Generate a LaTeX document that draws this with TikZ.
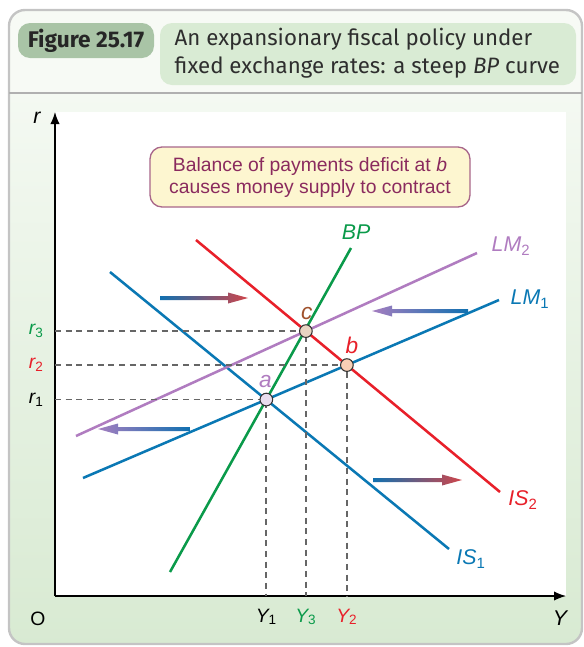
\documentclass[tikz,border=0pt]{standalone}
\usepackage{fontspec}
\setmainfont{Liberation Sans}
\newfontfamily\headfont{Fira Sans}
\usetikzlibrary{arrows.meta,intersections}
\definecolor{isblue}{HTML}{0A78B4}
\definecolor{isred}{HTML}{E8202A}
\definecolor{bpgreen}{HTML}{0A9A4A}
\definecolor{lmpurple}{HTML}{B07CC0}
\definecolor{dashgray}{HTML}{666666}
\definecolor{framegray}{HTML}{C4C4C4}
\definecolor{headbg}{HTML}{F7FAF5}
\definecolor{bgtop}{HTML}{F4F9F2}
\definecolor{bgbottom}{HTML}{D8EAD2}
\definecolor{figbox}{HTML}{A9C4A6}
\definecolor{titlebox}{HTML}{D9EBD4}
\definecolor{titletext}{HTML}{2E2E2E}
\definecolor{callfill}{HTML}{FDF6D0}
\definecolor{callborder}{HTML}{A8668A}
\definecolor{calltext}{HTML}{8A2A5E}
\definecolor{cbrown}{HTML}{A0522D}
\definecolor{afill}{HTML}{E9DDEE}
\definecolor{bfill}{HTML}{F8CFB5}
\definecolor{cfill}{HTML}{E8D4C2}
\definecolor{arrblue}{HTML}{1070B0}
\definecolor{arrred}{HTML}{D0454A}
\definecolor{arrpurple}{HTML}{A57EC0}
\newcommand{\sbs}[1]{\textsubscript{\upshape #1}}
\begin{document}
\begin{tikzpicture}[x=0.75pt,y=-0.75pt,
  curve/.style={line width=1.9pt},
  guide/.style={dashgray,line width=1.4pt,dash pattern=on 4.5pt off 3.5pt},
  eqpt/.style={circle,draw=black!80,line width=0.8pt,minimum size=9.5pt,inner sep=0pt},
  lbl/.style={font=\fontsize{16}{18}\selectfont\itshape},
  ptlbl/.style={font=\fontsize{17}{19}\selectfont\itshape},
  tick/.style={font=\fontsize{14.5}{16}\selectfont\itshape},
  axis/.style={line width=0.9pt,-{Latex[length=9pt,width=7pt]}}]
\useasboundingbox (0,0) rectangle (584,647);
% frame and backgrounds
\begin{scope}
\clip[rounded corners=12pt] (9,10) rectangle (582,644);
\fill[headbg] (0,0) rectangle (584,93);
\shade[top color=bgtop,bottom color=bgbottom] (0,93) rectangle (584,647);
\end{scope}
\draw[framegray,line width=1.8pt,rounded corners=12pt] (9,10) rectangle (582,644);
\draw[framegray!90!black,line width=1.8pt] (9,93) -- (582,93);
\fill[white] (55,112) rectangle (566,596);
% header
\fill[figbox,rounded corners=9pt] (18,23) rectangle (154,58);
\node[font=\headfont\bfseries\fontsize{17}{19}\selectfont,text=black!85] (fig) at (86,40.5) {Figure 25.17};
\fill[titlebox,rounded corners=9pt] (160,23) rectangle (576,85);
\node[anchor=west,font=\headfont\fontsize{16.7}{19}\selectfont,text=titletext] (t1) at (170,39) {An expansionary fiscal policy under};
\node[anchor=west,font=\headfont\fontsize{16.7}{19}\selectfont,text=titletext] (t2) at (170,68) {fixed exchange rates: a steep \textit{BP} curve};
% callout
\node[draw=callborder,fill=callfill,line width=1pt,rounded corners=9pt,minimum width=240pt,minimum height=45pt,
  align=center,text=calltext,font=\fontsize{14.5}{16.5}\selectfont] (call) at (310,177)
  {Balance of payments deficit at \textit{b}\\causes money supply to contract};
% axes
\coordinate (O) at (55,596);
\coordinate (ytop) at (55,112);
\coordinate (xend) at (566,596);
\draw[axis] (O) -- (ytop);
\draw[axis] (O) -- (xend);
\node[lbl] (rlab) at (37,118) {r};
\node[font=\fontsize{14.5}{16}\selectfont] (olab) at (38,619) {O};
\node[lbl] (ylab) at (560,618) {Y};
% curves
\draw[curve,isblue,name path=is1] (110,272) -- (449,549) coordinate (is1end);
\draw[curve,isred,name path=is2] (196,240) -- (500,492) coordinate (is2end);
\draw[curve,lmpurple,name path=lm2] (76,436) -- (477,253) coordinate (lm2end);
\draw[curve,isblue,name path=lm1] (83,478) -- (499,300) coordinate (lm1end);
\draw[curve,bpgreen,name path=bp] (170,572) -- (351,248) coordinate (bpend);
\node[lbl,isblue] (is1lab) at (471,559) {IS\sbs{1}};
\node[lbl,isred] (is2lab) at (523,500) {IS\sbs{2}};
\node[lbl,lmpurple] (lm2lab) at (511,246) {LM\sbs{2}};
\node[lbl,isblue] (lm1lab) at (530,299) {LM\sbs{1}};
\node[lbl,bpgreen] (bplab) at (356,232) {BP};
% intersections
\path[name intersections={of=bp and lm1,by=a}];
\path[name intersections={of=is2 and lm1,by=b}];
\path[name intersections={of=is2 and lm2,by=c}];
\draw[guide] (O |- a) -- (a) -- (a |- O);
\draw[guide] (O |- b) -- (b) -- (b |- O);
\draw[guide] (O |- c) -- (c) -- (c |- O);
\node[eqpt,fill=afill] (pa) at (a) {};
\node[eqpt,fill=bfill] (pb) at (b) {};
\node[eqpt,fill=cfill] (pc) at (c) {};
\node[ptlbl,lmpurple] (alab) at ([shift={(-1,-18)}]a) {a};
\node[ptlbl,isred] (blab) at ([shift={(5,-20)}]b) {b};
\node[ptlbl,cbrown] (clab) at ([shift={(1,-18)}]c) {c};
% tick labels
\node[tick,anchor=east] (r1) at ([xshift=-5pt]O |- a) {r\sbs{1}};
\node[tick,anchor=east,isred] (r2) at ([xshift=-5pt]O |- b) {r\sbs{2}};
\node[tick,anchor=east,bpgreen] (r3) at ([xshift=-5pt]O |- c) {r\sbs{3}};
\node[tick,anchor=north] (y1) at ([yshift=-6pt]a |- O) {Y\sbs{1}};
\node[tick,anchor=north,isred] (y2) at ([yshift=-6pt]b |- O) {Y\sbs{2}};
\node[tick,anchor=north,bpgreen] (y3) at ([yshift=-6pt]c |- O) {Y\sbs{3}};
% shift arrows
\shade[left color=arrblue,right color=arrred] (160,296) -- (228,296) -- (228,292.5) -- (248,298) -- (228,303.5) -- (228,300) -- (160,300) -- cycle;
\shade[left color=arrblue,right color=arrred] (373,478) -- (442,478) -- (442,474.5) -- (462,480) -- (442,485.5) -- (442,482) -- (373,482) -- cycle;
\shade[left color=arrpurple,right color=arrblue] (468,309) -- (392,309) -- (392,305.5) -- (372,311) -- (392,316.5) -- (392,313) -- (468,313) -- cycle;
\shade[left color=arrpurple,right color=arrblue] (190,427) -- (118,427) -- (118,423.5) -- (98,429) -- (118,434.5) -- (118,431) -- (190,431) -- cycle;
\end{tikzpicture}
\end{document}
